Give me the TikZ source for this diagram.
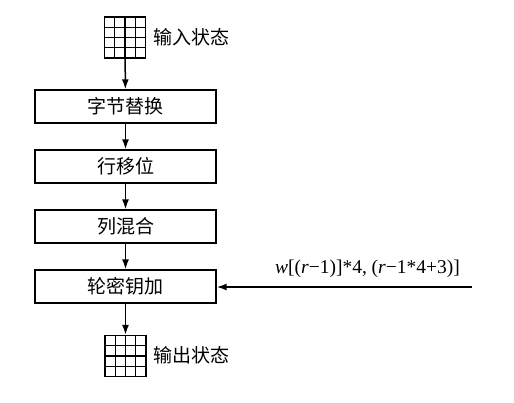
\documentclass[tikz,border=0pt]{standalone}
\usepackage{fontspec}
\setmainfont{Liberation Serif}
\newfontfamily\cjk{Noto Sans CJK SC}
\usetikzlibrary{arrows.meta}

\begin{document}
\begin{tikzpicture}[x=1pt,y=-1pt,
  stagebox/.style={draw,line width=1.4pt,minimum width=181pt,minimum height=33pt,
    inner sep=0pt,font=\cjk\fontsize{19}{22}\selectfont},
  statebox/.style={draw,line width=1.4pt,minimum size=41pt,inner sep=0pt,
    path picture={
      \foreach \k in {1,2,3} {
        \draw[line width=1.3pt] ([xshift=\k*10.25pt]path picture bounding box.north west)
          -- ([xshift=\k*10.25pt]path picture bounding box.south west);
        \draw[line width=1.3pt] ([yshift=-\k*10.25pt]path picture bounding box.north west)
          -- ([yshift=-\k*10.25pt]path picture bounding box.north east);
      }}},
  statetext/.style={anchor=west,inner sep=2pt,font=\cjk\fontsize{19}{22}\selectfont},
  flow/.style={line width=1.5pt,-{Latex[length=10pt,width=7pt]}},
]
  \useasboundingbox (0,0) rectangle (514,402);
  \node[statebox] (in) at (125,37.5) {};
  \node[statetext] (intext) at (151,37) {输入状态};
  \node[stagebox] (sub) at (125.5,106.5) {字节替换};
  \node[stagebox] (shift) at (125.5,166.5) {行移位};
  \node[stagebox] (mix) at (125.5,226.5) {列混合};
  \node[stagebox] (addkey) at (125.5,286.5) {轮密钥加};
  \node[statebox] (out) at (125.5,356) {};
  \node[statetext] (outtext) at (151,355) {输出状态};
  \coordinate (key) at (472,287);
  \node[font=\fontsize{19.5}{22}\selectfont] (keylabel) at (367.5,269)
    {\textit{w}[(\textit{r}−1)]*4, (\textit{r}−1*4+3)]};

  \draw[flow] (in) -- (sub);
  \draw[flow] (sub) -- (shift);
  \draw[flow] (shift) -- (mix);
  \draw[flow] (mix) -- (addkey);
  \draw[flow] (addkey) -- (out);
  \draw[flow] (key) -- (addkey.east |- key);
\end{tikzpicture}
\end{document}
